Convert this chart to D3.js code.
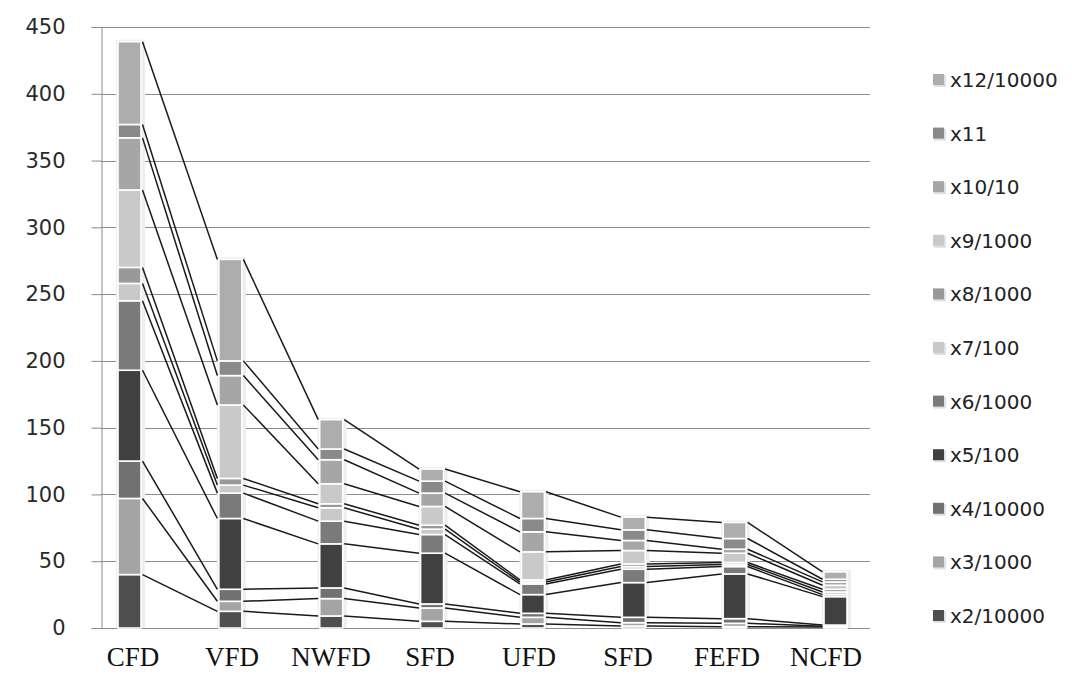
<!DOCTYPE html>
<html>
<head>
<meta charset="utf-8">
<script src="https://cdn.jsdelivr.net/npm/d3@7/dist/d3.min.js"></script>
<style>
  html, body { margin: 0; padding: 0; background: #fff; }
  svg { display: block; }
</style>
</head>
<body>
<svg id="chart" width="1072" height="676"></svg>
<script>
// ---- data ----
const categories = ["CFD", "VFD", "NWFD", "SFD", "UFD", "SFD", "FEFD", "NCFD"];
const seriesNames = ["x2/10000", "x3/1000", "x4/10000", "x5/100", "x6/1000", "x7/100", "x8/1000", "x9/1000", "x10/10", "x11", "x12/10000"];
const x2  = [40, 12.5, 9, 5, 3, 1.5, 1, 0.7];
const x3  = [57, 7.5, 13, 10, 5, 2.5, 2.5, 0.7];
const x4  = [28, 9, 8, 3, 3, 4, 3.5, 0.8];
const x5  = [68, 53, 33, 38, 14, 26, 33.5, 21.3];
const x6  = [52, 19, 17, 14, 8, 10, 5.5, 1.5];
const x7  = [13, 6, 10, 4, 1.5, 2, 1.5, 2];
const x8  = [12, 5, 3, 3, 1.5, 2, 1.5, 2];
const x9  = [58, 55, 15, 14, 21, 10, 7, 3];
const x10 = [39, 22, 18, 10, 15, 7.5, 3, 2.5];
const x11 = [10, 11, 8, 9, 10, 8, 8, 2];
const x12 = [62, 76, 22, 9, 20, 9.5, 12, 5.5];
const yTicks = [0, 50, 100, 150, 200, 250, 300, 350, 400, 450];
const seriesValues = [x2, x3, x4, x5, x6, x7, x8, x9, x10, x11, x12];
const seriesColors = ["#4f4f4f", "#a4a4a4", "#717171", "#404040", "#7a7a7a", "#c9c9c9", "#999999", "#c9c9c9", "#a6a6a6", "#8a8a8a", "#adadad"];

// ---- layout ----
const svg = d3.select("#chart");
const plotLeft = 101, plotRight = 870, plotTop = 27, plotBottom = 628;
const y = d3.scaleLinear().domain([0, 450]).range([plotBottom, plotTop]);
const idx = categories.map((d, i) => i);
const xBar = d3.scalePoint().domain(idx).range([129.5, 835.5]);
const xLab = d3.scalePoint().domain(idx).range([133, 826]);
const barW = 23;

// gridlines
svg.append("g").selectAll("line").data(yTicks).join("line")
  .attr("x1", plotLeft).attr("x2", plotRight)
  .attr("y1", d => Math.round(y(d)) + 0.5).attr("y2", d => Math.round(y(d)) + 0.5)
  .attr("stroke", "#8c8c8c").attr("stroke-width", 1);

// y axis
const yAxis = d3.axisLeft(y).tickValues(yTicks).tickSize(10).tickPadding(26);
const gy = svg.append("g").attr("transform", `translate(${plotLeft + 0.5},0)`).call(yAxis);
gy.select(".domain").attr("stroke", "#8c8c8c");
gy.selectAll(".tick line").attr("stroke", "#8c8c8c");
gy.selectAll(".tick text").attr("font-family", "DejaVu Sans, Verdana, sans-serif")
  .attr("font-size", 21).attr("fill", "#2a2a2a");

// stacked data
const stackData = idx.map(i => {
  const o = { i };
  seriesValues.forEach((s, k) => o["s" + k] = s[i]);
  return o;
});
const keys = seriesValues.map((s, k) => "s" + k);
const stacked = d3.stack().keys(keys)(stackData);

// bar shadows
svg.append("g").selectAll("rect").data(idx).join("rect")
  .attr("x", i => xBar(i) - barW / 2 - 2)
  .attr("y", i => y(d3.sum(seriesValues, s => s[i])) - 2)
  .attr("width", barW + 6)
  .attr("height", i => plotBottom - y(d3.sum(seriesValues, s => s[i])) + 2)
  .attr("fill", "#eeeeee");

// series lines
const lineG = svg.append("g");
stacked.forEach((layer, k) => {
  for (let i = 0; i < idx.length - 1; i++) {
    lineG.append("line")
      .attr("x1", xBar(i) + barW / 2 + 1.5).attr("y1", y(layer[i][1]))
      .attr("x2", xBar(i + 1) - barW / 2 - 1.5).attr("y2", y(layer[i + 1][1]))
      .attr("stroke", "#1a1a1a").attr("stroke-width", 1.5);
  }
});

// bars
svg.append("g").selectAll("g").data(stacked).join("g")
  .attr("fill", (d, k) => seriesColors[k])
  .selectAll("rect").data(d => d).join("rect")
  .attr("x", d => xBar(d.data.i) - barW / 2)
  .attr("y", d => y(d[1]))
  .attr("width", barW)
  .attr("height", d => Math.max(0, y(d[0]) - y(d[1])))
  .attr("stroke", "#fff").attr("stroke-width", 1.6);

// category labels
svg.append("g").selectAll("text").data(idx).join("text")
  .attr("x", i => xLab(i)).attr("y", 666)
  .attr("text-anchor", "middle")
  .attr("font-family", "Liberation Serif, Times New Roman, serif")
  .attr("font-size", 27).attr("fill", "#111")
  .text(i => categories[i]);

// legend (top entry = last series)
const legendOrder = seriesNames.map((n, k) => k).reverse();
const ly = d3.scalePoint().domain(legendOrder).range([80, 616]);
const lg = svg.append("g").selectAll("g").data(legendOrder).join("g")
  .attr("transform", k => `translate(933,${ly(k)})`);
lg.append("rect").attr("x", 1).attr("y", -5).attr("width", 12).attr("height", 12).attr("fill", "#e0e0e0");
lg.append("rect").attr("x", 0).attr("y", -6).attr("width", 11).attr("height", 11).attr("fill", k => seriesColors[k]);
lg.append("text").attr("x", 17).attr("y", 7)
  .attr("font-family", "DejaVu Sans, Verdana, sans-serif")
  .attr("font-size", 20).attr("fill", "#222")
  .text(k => "x" + seriesNames[k].slice(1));
</script>
</body>
</html>
